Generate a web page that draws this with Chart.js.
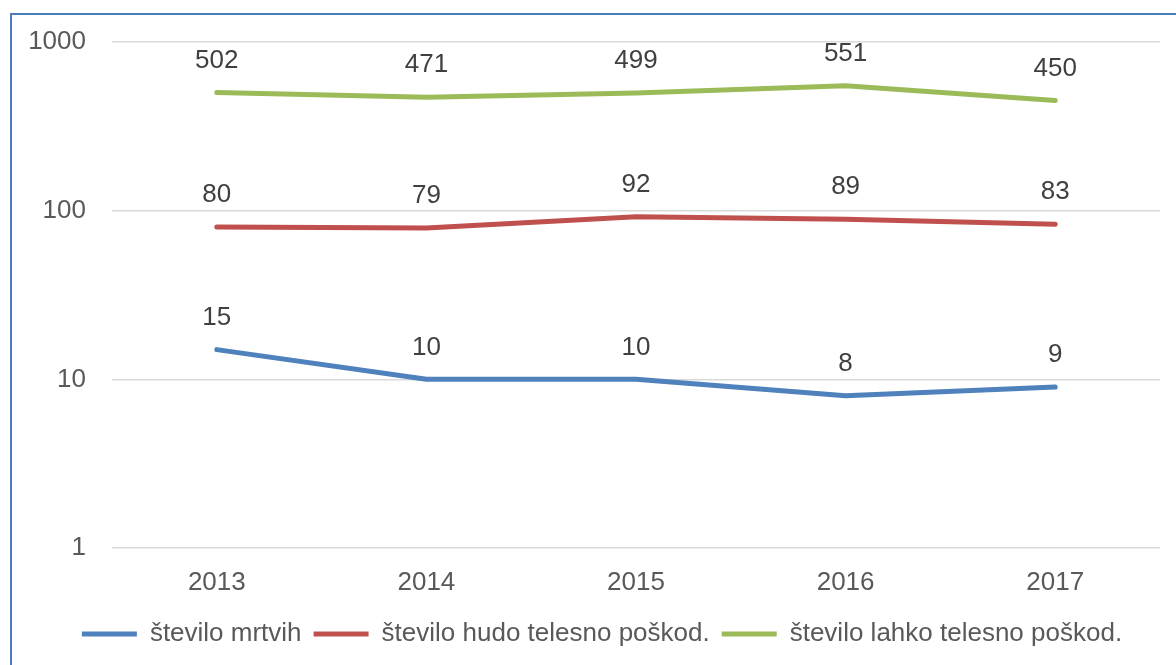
<!DOCTYPE html>
<html>
<head>
<meta charset="utf-8">
<script src="https://cdn.jsdelivr.net/npm/chart.js@4/dist/chart.umd.min.js"></script>
<style>
  html, body { margin: 0; padding: 0; background: #fff; }
  #wrap { position: relative; width: 1176px; height: 665px; overflow: hidden; }
  #frame { position: absolute; left: 10px; top: 13px; width: 1200px; height: 700px; border: 2px solid #4a7ebb; box-sizing: border-box; }
  canvas { position: absolute; left: 0; top: 0; }
</style>
</head>
<body>
<div id="wrap">
  <div id="frame"></div>
  <canvas id="chart" width="1176" height="665"></canvas>
</div>
<script>
// === data ===
const years = ["2013", "2014", "2015", "2016", "2017"];
const mrtvih = [15, 10, 10, 8, 9];
const hudo = [80, 79, 92, 89, 83];
const lahko = [502, 471, 499, 551, 450];
const yTicks = [1, 10, 100, 1000];

const FONT = "'Liberation Sans', Arial, sans-serif";

// draws the value above each point
const valueLabels = {
  id: "valueLabels",
  afterDatasetsDraw(chart) {
    const ctx = chart.ctx;
    ctx.save();
    ctx.font = "26px " + FONT;
    ctx.fillStyle = "#404040";
    ctx.textAlign = "center";
    ctx.textBaseline = "middle";
    chart.data.datasets.forEach((ds, i) => {
      chart.getDatasetMeta(i).data.forEach((pt, j) => {
        ctx.fillText(String(ds.data[j]), pt.x, pt.y - 32);
      });
    });
    ctx.restore();
  }
};

// legend sits a bit right of the canvas centre in the original
const legendShift = {
  id: "legendShift",
  afterLayout(chart) {
    chart.legend.left += 22;
    chart.legend.right += 22;
  }
};

const line = (label, data, color) => ({
  label, data,
  borderColor: color,
  backgroundColor: color,
  borderWidth: 5,
  borderCapStyle: "round",
  borderJoinStyle: "round",
  pointRadius: 0,
  tension: 0,
  fill: false
});

new Chart(document.getElementById("chart"), {
  type: "line",
  data: {
    labels: years,
    datasets: [
      line("število mrtvih", mrtvih, "#4f81bd"),
      line("število hudo telesno poškod.", hudo, "#c0504d"),
      line("število lahko telesno poškod.", lahko, "#9bbb59")
    ]
  },
  plugins: [valueLabels, legendShift],
  options: {
    responsive: false,
    animation: false,
    layout: { padding: { left: 0, top: 42, right: 16, bottom: 8 } },
    plugins: {
      tooltip: { enabled: false },
      legend: {
        position: "bottom",
        labels: {
          font: { family: FONT, size: 26 },
          color: "#595959",
          usePointStyle: true,
          pointStyle: "line",
          pointStyleWidth: 55,
          padding: 12
        }
      }
    },
    scales: {
      x: {
        offset: true,
        afterFit(scale) { scale.height = 61; },
        grid: { display: false },
        border: { display: false },
        ticks: { font: { family: FONT, size: 26 }, color: "#595959", padding: 11 }
      },
      y: {
        type: "logarithmic",
        min: 1,
        max: 1000,
        afterFit(scale) { scale.width = 112; },
        afterBuildTicks(scale) { scale.ticks = yTicks.map(v => ({ value: v })); },
        grid: { color: "#d9d9d9", lineWidth: 1.5, drawTicks: false },
        border: { display: false },
        ticks: {
          font: { family: FONT, size: 26 },
          color: "#595959",
          padding: 26,
          callback: v => String(v)
        }
      }
    }
  }
});
</script>
</body>
</html>
